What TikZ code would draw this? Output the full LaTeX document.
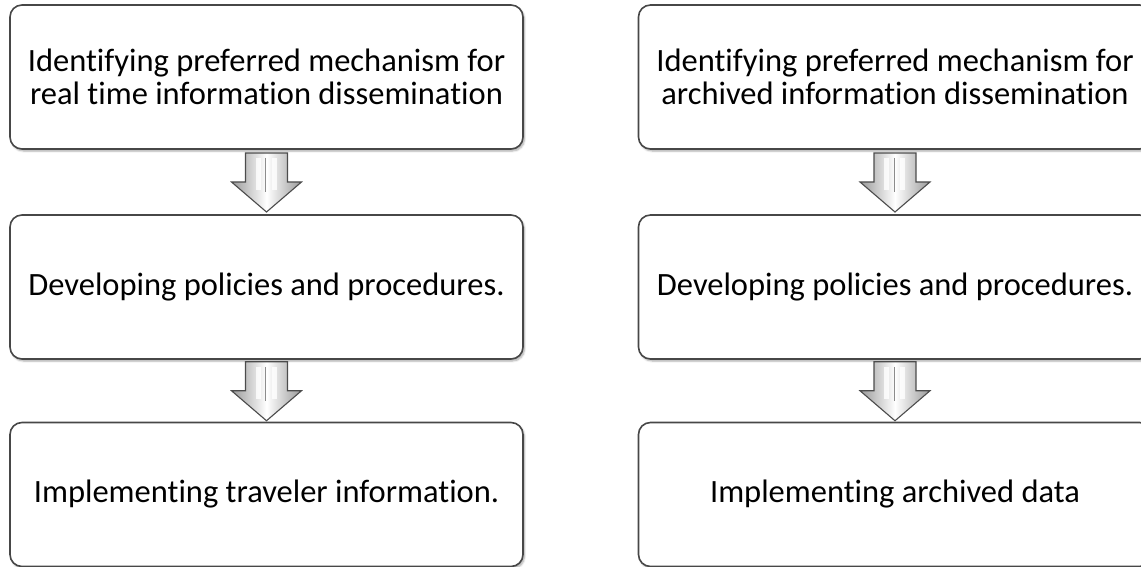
\documentclass[tikz,border=0pt]{standalone}
\usepackage{fontspec}
\setmainfont[Ligatures=NoCommon]{Carlito}
\usetikzlibrary{calc,shadows.blur}
\tikzset{
  x=1pt,y=-1pt,
  stepbox/.style={draw=black!72, line width=1.6pt, rounded corners=12pt, fill=white,
    minimum width=513pt, minimum height=144pt, align=center, inner sep=0pt,
    font=\fontsize{32.5}{33}\selectfont,
    blur shadow={shadow xshift=1.5pt, shadow yshift=-2pt, shadow blur steps=5, shadow opacity=35}},
  pics/downarrow/.style={code={
    \path[draw=black!70, line width=1.1pt, line join=miter,
      left color=black!40, right color=black!40, middle color=white]
      (-21,-29) -- (21,-29) -- (21,0) -- (35,0) -- (0,30) -- (-35,0) -- (-21,0) -- cycle;
    \fill[white, opacity=0.8] (-11,-24) rectangle (-6,8);
    \fill[white, opacity=0.8] (5,-24) rectangle (10,8);
    \draw[black!45, line width=0.8pt] (-1,-24) -- (-1,10);
  }}
}
\begin{document}
\begin{tikzpicture}
\useasboundingbox (0,0) rectangle (1141,567);
\clip (0,0) rectangle (1141,567);
\node[stepbox] (l1) at (266.5,77) {Identifying preferred mechanism for\\real time information dissemination};
\node[stepbox] (l2) at (266.5,287) {Developing policies and procedures.};
\node[stepbox] (l3) at (266.5,494.5) {Implementing traveler information.};
\node[stepbox] (r1) at (895,77) {Identifying preferred mechanism for\\archived information dissemination};
\node[stepbox] (r2) at (895,287) {Developing policies and procedures.};
\node[stepbox] (r3) at (895,494.5) {Implementing archived data};
\pic at ($(l1.south)!0.5!(l2.north)$) {downarrow};
\pic at ($(l2.south)!0.5!(l3.north)$) {downarrow};
\pic at ($(r1.south)!0.5!(r2.north)$) {downarrow};
\pic at ($(r2.south)!0.5!(r3.north)$) {downarrow};
\end{tikzpicture}
\end{document}
